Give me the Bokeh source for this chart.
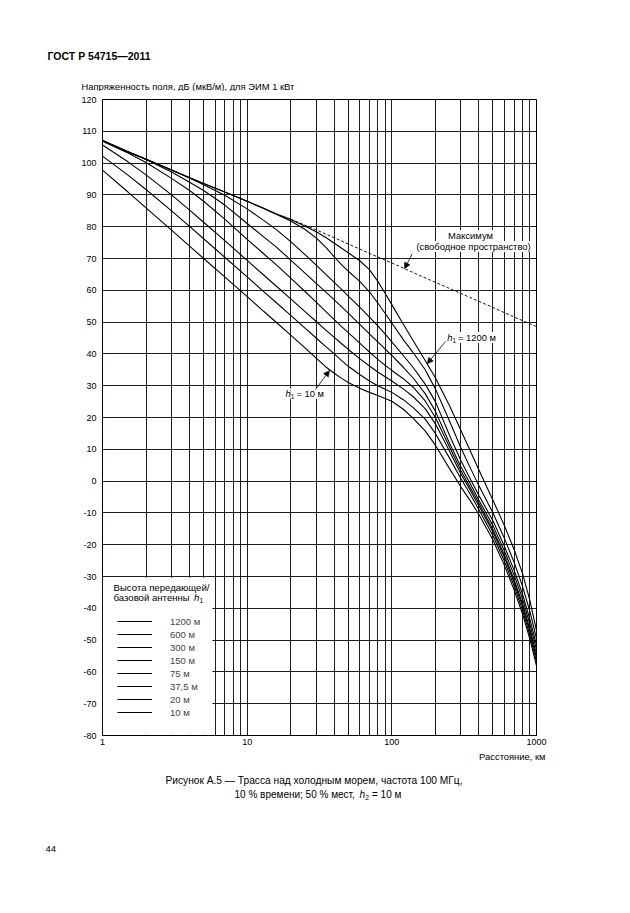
from bokeh.plotting import figure
from bokeh.layouts import column, row
from bokeh.models import (Range1d, LinearScale, FixedTicker, CustomJSTickFormatter,
                          Label, Arrow, NormalHead, BoxAnnotation, Legend, LegendItem)
from bokeh.embed import file_html
from bokeh.resources import INLINE

# ---------------- data ----------------
distance_km = [1, 1.5, 2, 3, 4, 5, 7, 10, 13, 16, 20, 25, 30, 35, 40, 45, 50, 60, 70, 80, 90,
               100, 120, 140, 170, 200, 250, 300, 350, 400, 500, 600, 700, 800, 900, 1000]

field_1200 = [107.1, 103.6, 101.2, 97.8, 95.4, 93.6, 90.9, 88.0, 85.8, 84.0, 82.3, 80.2, 78.4,
              76.6, 74.8, 73.2, 71.8, 69.3, 66.5, 62.8, 59.0, 55.5, 49.3, 44.3, 37.9, 32.5,
              23.8, 16.0, 9.3, 3.5, -6.0, -14.0, -21.5, -29.0, -37.5, -47.0]
field_600 = [107.1, 103.6, 101.2, 97.8, 95.4, 93.6, 90.9, 88.0, 85.7, 83.8, 81.8, 79.2, 76.5,
             73.5, 70.5, 68.0, 66.0, 62.8, 59.5, 56.0, 52.7, 49.7, 44.5, 40.5, 35.0, 29.0,
             19.0, 10.5, 4.0, -1.5, -10.0, -18.0, -25.5, -33.0, -41.0, -49.5]
field_300 = [107.1, 103.6, 101.2, 97.8, 95.3, 93.2, 89.9, 85.6, 82.0, 79.0, 75.3, 71.3, 67.9,
             65.0, 62.5, 60.3, 58.2, 54.7, 51.6, 48.8, 46.2, 43.8, 39.5, 35.8, 30.5, 25.0,
             14.5, 6.5, 0.5, -4.5, -12.5, -20.5, -28.0, -35.5, -43.5, -51.5]
field_150 = [107.0, 103.6, 101.1, 97.2, 94.0, 91.4, 86.8, 81.0, 76.8, 73.5, 69.5, 65.5, 62.2,
             59.4, 57.0, 54.8, 52.8, 49.3, 46.3, 43.8, 41.5, 39.5, 35.8, 32.5, 27.5, 22.0,
             12.0, 4.5, -1.0, -6.0, -14.0, -22.0, -29.5, -37.0, -45.0, -53.0]
field_75 = [106.9, 103.2, 100.2, 95.2, 91.4, 88.0, 82.4, 76.0, 71.5, 67.9, 63.8, 59.7, 56.3,
            53.3, 50.8, 48.6, 46.7, 43.4, 40.6, 38.3, 36.4, 34.8, 32.2, 29.6, 25.2, 20.0,
            10.8, 3.3, -2.2, -7.0, -15.2, -23.2, -31.0, -38.5, -46.5, -54.5]
field_37_5 = [105.7, 100.4, 96.3, 90.0, 85.2, 81.4, 75.6, 69.4, 64.8, 61.2, 57.3, 53.4, 50.2,
              47.5, 45.2, 43.2, 41.4, 38.5, 36.2, 34.3, 32.8, 31.5, 29.0, 26.6, 22.8, 18.0,
              9.5, 2.3, -3.0, -7.8, -16.0, -24.0, -31.8, -39.3, -47.3, -55.7]
field_20 = [102.2, 96.2, 91.7, 85.0, 80.1, 76.2, 70.4, 64.2, 59.6, 56.0, 52.1, 48.2, 45.0,
            42.3, 40.0, 37.9, 36.1, 33.5, 31.5, 30.0, 28.9, 27.9, 25.6, 23.2, 19.5, 15.0,
            7.3, 0.8, -4.3, -9.0, -17.2, -25.2, -33.0, -40.5, -48.5, -56.8]
field_10 = [97.8, 90.9, 85.9, 78.9, 73.9, 70.0, 64.2, 58.0, 53.4, 49.8, 45.9, 42.0, 38.7,
            35.9, 33.9, 32.3, 31.0, 29.2, 27.9, 26.9, 26.0, 25.1, 22.6, 19.8, 15.8, 11.3,
            4.0, -1.8, -6.3, -10.5, -18.5, -26.5, -34.2, -41.7, -49.7, -58.0]

height_labels = ["1200 м", "600 м", "300 м", "150 м", "75 м", "37,5 м", "20 м", "10 м"]

max_distance_km = [20, 30, 50, 70, 100, 150, 200, 300, 500, 700, 1000]
max_field = [82.4, 79.0, 74.6, 71.6, 68.6, 65.0, 62.5, 59.0, 54.6, 51.6, 48.6]

x_ticks = [1, 10, 100, 1000]
y_ticks = [-80, -70, -60, -50, -40, -30, -20, -10, 0, 10, 20, 30, 40, 50, 60, 70, 80, 90,
           100, 110, 120]

FONT = "Liberation Sans"
W = 622


def blank(height, y_top):
    f = figure(width=W, height=height, x_range=Range1d(0, W), y_range=Range1d(y_top + height, y_top),
               output_backend="svg", toolbar_location=None, min_border=0,
               x_axis_location=None, y_axis_location=None)
    f.grid.visible = False
    f.outline_line_color = None
    f.background_fill_color = "white"
    f.border_fill_color = "white"
    return f


def txt(fig, x, y, text, size="9.4px", align="left", style="normal", rng=None, bg=None):
    kw = dict(x_range_name=rng, y_range_name=rng) if rng else {}
    if bg:
        kw["background_fill_color"] = bg
    fig.add_layout(Label(x=x, y=y, text=text, text_font=FONT, text_font_size=size,
                         text_align=align, text_baseline="middle", text_font_style=style,
                         text_color="black", **kw))


# ---------------- top strip (page y 0..91) ----------------
top = blank(91, 0)
txt(top, 47, 55.5, "ГОСТ Р 54715—2011", size="10.5px", style="bold")
txt(top, 81, 86, "Напряженность поля, дБ (мкВ/м), для ЭИМ 1 кВт")

# ---------------- main chart (page y 91..751) ----------------
p = figure(width=W, height=660, x_axis_type="log",
           x_range=Range1d(1, 1000), y_range=Range1d(-80, 120),
           output_backend="svg", toolbar_location=None,
           min_border_left=102, min_border_right=86, min_border_top=8, min_border_bottom=16)
p.background_fill_color = "white"
p.border_fill_color = "white"
p.outline_line_color = "black"
p.outline_line_width = 1

# page-pixel helper ranges (frame spans page x 102..536, y 99..735)
p.extra_x_ranges = {"px": Range1d(102, 536)}
p.extra_y_ranges = {"px": Range1d(735, 99)}
p.extra_x_scales = {"px": LinearScale()}
p.extra_y_scales = {"px": LinearScale()}

grid_x = [m * 10 ** e for e in range(3) for m in range(1, 10)] + [1000]
p.xgrid.ticker = FixedTicker(ticks=grid_x)
p.ygrid.ticker = FixedTicker(ticks=y_ticks)
for g in (p.xgrid, p.ygrid):
    g.grid_line_color = "#1e1e1e"
    g.grid_line_width = 1
    g.grid_line_alpha = 1

p.xaxis.ticker = FixedTicker(ticks=x_ticks)
p.xaxis.formatter = CustomJSTickFormatter(code="return String(Math.round(tick));")
p.yaxis.ticker = FixedTicker(ticks=y_ticks)
p.yaxis.formatter = CustomJSTickFormatter(code="return String(Math.round(tick));")
for ax in (p.xaxis, p.yaxis):
    ax.axis_line_color = "black"
    ax.axis_line_width = 1
    ax.major_tick_out = 0
    ax.major_tick_in = 0
    ax.minor_tick_out = 0
    ax.minor_tick_in = 0
    ax.major_label_text_font = FONT
    ax.major_label_text_font_size = "9px"
    ax.major_label_text_color = "black"
p.xaxis.major_label_standoff = 3
p.yaxis.major_label_standoff = 6

series = [field_1200, field_600, field_300, field_150, field_75, field_37_5, field_20, field_10]
renderers = [p.line(distance_km, vals, line_color="black", line_width=1.1) for vals in series]
p.line(max_distance_km, max_field, line_color="black", line_width=0.9, line_dash="3 2")

# white legend area covering the grid
p.add_layout(BoxAnnotation(left=1.006, right=5.75, bottom=-79.8, top=-30.4,
                           fill_color="white", fill_alpha=1, line_alpha=0))

legend = Legend(items=[LegendItem(label=lab, renderers=[r]) for lab, r in zip(height_labels, renderers)],
                location=(15, 17), padding=0, margin=0, border_line_alpha=0,
                background_fill_alpha=0, label_text_font=FONT, label_text_font_size="9.5px",
                glyph_width=35, glyph_height=12, label_height=12, label_standoff=18, spacing=1)
p.add_layout(legend)


def arrow(x0, y0, x1, y1):
    p.add_layout(Arrow(x_start=x0, y_start=y0, x_end=x1, y_end=y1,
                       x_range_name="px", y_range_name="px", line_width=0.8, line_color="black",
                       end=NormalHead(size=6, line_width=0.5, line_color="black", fill_color="black")))


txt(p, 161, 587, "Высота передающей/", size="9.6px", align="center", rng="px")
txt(p, 113, 597, "базовой антенны", size="9.6px", rng="px")
txt(p, 193.5, 597, "h", size="9.6px", style="italic", rng="px")
txt(p, 199, 600, "1", size="6.5px", rng="px")

txt(p, 470, 235, "Максимум", align="center", rng="px", bg="white")
txt(p, 473, 246, "(свободное пространство)", align="center", rng="px", bg="white")
arrow(411.7, 253.3, 404, 268.3)

txt(p, 446.7, 337, "h", style="italic", rng="px", bg="white")
txt(p, 452, 340, "1", size="6.5px", rng="px", bg="white")
txt(p, 457.5, 337, "= 1200 м", rng="px", bg="white")
arrow(445, 341, 426.7, 363.3)

txt(p, 285, 393, "h", style="italic", rng="px", bg="white")
txt(p, 290.3, 396, "1", size="6.5px", rng="px", bg="white")
txt(p, 296, 393, "= 10 м", rng="px", bg="white")
arrow(315, 389, 329, 370)

# ---------------- bottom strip (page y 751..905) ----------------
bot = blank(154, 751)
txt(bot, 545, 756, "Расстояние, км", align="right")
txt(bot, 313.5, 780, "Рисунок А.5 — Трасса над холодным морем, частота 100 МГц,", size="10.2px", align="center")
txt(bot, 234, 794, "10 % времени; 50 % мест,", size="10px")
txt(bot, 359, 794, "h", size="10px", style="italic")
txt(bot, 364.8, 797, "2", size="6.8px")
txt(bot, 371.5, 794, "= 10 м", size="10px")
txt(bot, 45, 848, "44", size="9.5px")

layout = column(row(top), p, row(bot), spacing=0)
open("out.html", "w").write(file_html(layout, INLINE))
